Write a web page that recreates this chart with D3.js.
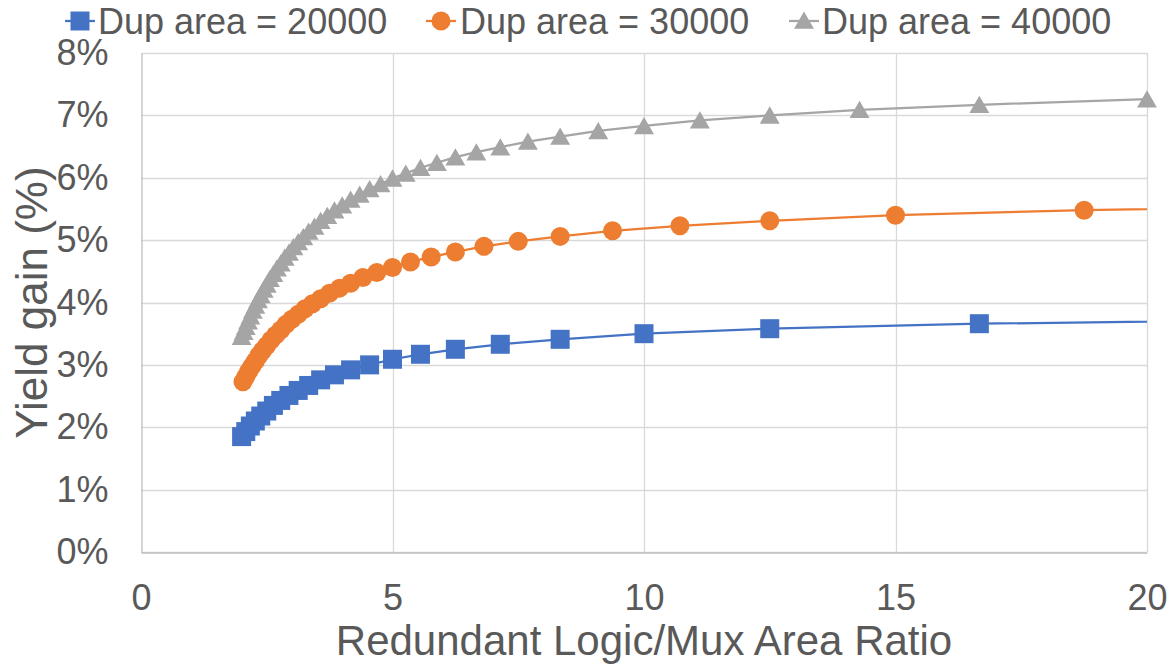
<!DOCTYPE html>
<html>
<head>
<meta charset="utf-8">
<script src="https://cdn.jsdelivr.net/npm/d3@7"></script>
<style>
  html, body { margin: 0; padding: 0; background: #fff; }
  svg text { font-family: "Liberation Sans", Arial, sans-serif; fill: #595959; }
</style>
</head>
<body>
<svg id="chart" width="1174" height="670"></svg>
<script>
// Redundant logic / mux area ratio (x) vs. yield gain in percent (y)
const blueX = [25, 16.667, 12.5, 10, 8.333, 7.143, 6.25, 5.556, 5, 4.545, 4.167, 3.846, 3.571, 3.333, 3.125, 2.941, 2.778, 2.632, 2.5, 2.381, 2.273, 2.174, 2.083, 2.0];
const blueY = [3.74, 3.66, 3.58, 3.50, 3.41, 3.33, 3.25, 3.17, 3.09, 3.00, 2.92, 2.84, 2.76, 2.67, 2.59, 2.51, 2.43, 2.35, 2.26, 2.18, 2.10, 2.02, 1.93, 1.85];

const orangeX = [25, 18.75, 15, 12.5, 10.714, 9.375, 8.333, 7.5, 6.818, 6.25, 5.769, 5.357, 5, 4.688, 4.412, 4.167, 3.947, 3.75, 3.571, 3.409, 3.261, 3.125, 3.0, 2.885, 2.778, 2.679, 2.586, 2.5, 2.419, 2.344, 2.273, 2.206, 2.143, 2.083, 2.027];
const orangeY = [5.56, 5.48, 5.40, 5.31, 5.23, 5.15, 5.06, 4.98, 4.90, 4.81, 4.73, 4.65, 4.56, 4.48, 4.40, 4.31, 4.23, 4.15, 4.06, 3.98, 3.90, 3.81, 3.73, 3.65, 3.56, 3.48, 3.40, 3.31, 3.23, 3.15, 3.06, 2.98, 2.90, 2.81, 2.73];

const grayX = [20, 16.667, 14.286, 12.5, 11.111, 10, 9.091, 8.333, 7.692, 7.143, 6.667, 6.25, 5.882, 5.556, 5.263, 5, 4.762, 4.545, 4.348, 4.167, 4, 3.846, 3.704, 3.571, 3.448, 3.333, 3.226, 3.125, 3.030, 2.941, 2.857, 2.778, 2.703, 2.632, 2.564, 2.5, 2.439, 2.381, 2.326, 2.273, 2.222, 2.174, 2.128, 2.083, 2.041, 2.0];
const grayY = [7.26, 7.17, 7.09, 7.00, 6.92, 6.83, 6.75, 6.66, 6.58, 6.49, 6.41, 6.33, 6.24, 6.16, 6.07, 5.99, 5.90, 5.82, 5.73, 5.65, 5.56, 5.48, 5.39, 5.31, 5.22, 5.14, 5.05, 4.97, 4.89, 4.80, 4.72, 4.63, 4.55, 4.46, 4.38, 4.29, 4.21, 4.12, 4.04, 3.95, 3.87, 3.78, 3.70, 3.61, 3.53, 3.45];

const seriesNames = ["Dup area = 20000", "Dup area = 30000", "Dup area = 40000"];
const xTicks = [0, 5, 10, 15, 20];
const yTicks = [0, 1, 2, 3, 4, 5, 6, 7, 8];
const xTitle = "Redundant Logic/Mux Area Ratio";
const yTitle = "Yield gain (%)";

const series = [
  { name: seriesNames[0], xs: blueX, ys: blueY, color: "#4472C4", symbol: d3.symbolSquare, size: 19 * 19 },
  { name: seriesNames[1], xs: orangeX, ys: orangeY, color: "#ED7D31", symbol: d3.symbolCircle, size: Math.PI * 9.5 * 9.5 },
  { name: seriesNames[2], xs: grayX, ys: grayY, color: "#A5A5A5", symbol: d3.symbolTriangle, size: 19 * 19 * 0.433 * 1.1 }
];

const svg = d3.select("#chart");
const margin = { left: 141, right: 27, top: 53, bottom: 118 };
const W = 1174, H = 670;
const x = d3.scaleLinear().domain([0, 20]).range([margin.left, W - margin.right]);
const y = d3.scaleLinear().domain([0, 8]).range([H - margin.bottom, margin.top]);

// Grid
const grid = svg.append("g");
grid.selectAll("line.h").data(yTicks).join("line")
  .attr("x1", x(0)).attr("x2", x(20))
  .attr("y1", d => Math.round(y(d)) + 0.5).attr("y2", d => Math.round(y(d)) + 0.5)
  .attr("stroke", "#d9d9d9").attr("stroke-width", 1.3);
grid.selectAll("line.v").data(xTicks.slice(1)).join("line")
  .attr("y1", y(0)).attr("y2", y(8))
  .attr("x1", d => Math.round(x(d)) + 0.5).attr("x2", d => Math.round(x(d)) + 0.5)
  .attr("stroke", "#d9d9d9").attr("stroke-width", 1.3);

// Axes
const xAxis = d3.axisBottom(x).tickValues(xTicks).tickSize(0).tickPadding(32);
const yAxis = d3.axisLeft(y).tickValues(yTicks).tickSize(0).tickPadding(33).tickFormat(d => d + "%");
const gx = svg.append("g").attr("transform", `translate(0,${Math.round(y(0)) + 0.5})`).call(xAxis);
const gy = svg.append("g").attr("transform", `translate(${Math.round(x(0)) + 0.5},0)`).call(yAxis);
[gx, gy].forEach(g => {
  g.select(".domain").attr("stroke", "#bfbfbf").attr("stroke-width", 1.3);
  g.selectAll("text").style("font-size", "36px").attr("fill", "#595959");
});
gx.selectAll("text").attr("dy", "0.71em");

// Axis titles
svg.append("text").attr("x", (x(0) + x(20)) / 2).attr("y", 655)
  .attr("text-anchor", "middle").style("font-size", "42px").text(xTitle);
svg.append("text").attr("transform", `translate(47,${(y(0) + y(8)) / 2}) rotate(-90)`)
  .attr("text-anchor", "middle").style("font-size", "44px").text(yTitle);

// Clip for lines
svg.append("clipPath").attr("id", "plotClip").append("rect")
  .attr("x", x(0)).attr("y", 0).attr("width", x(20) - x(0)).attr("height", H);

const line = d3.line().x(d => x(d[0])).y(d => y(d[1]));

series.forEach(s => {
  const pts = s.xs.map((v, i) => [v, s.ys[i]]);
  const g = svg.append("g");
  g.append("path").datum(pts).attr("d", line)
    .attr("fill", "none").attr("stroke", s.color).attr("stroke-width", 2.25)
    .attr("clip-path", "url(#plotClip)");
  g.selectAll("path.m").data(pts.filter(p => p[0] <= 20)).join("path")
    .attr("class", "m")
    .attr("d", d3.symbol().type(s.symbol).size(s.size))
    .attr("transform", p => {
      const dy = s.symbol === d3.symbolTriangle ? 2.5 : 0;
      return `translate(${x(p[0])},${y(p[1]) + dy})`;
    })
    .attr("fill", s.color);
});

// Legend
const legendItems = [
  { s: series[0], cx: 80, tx: 98 },
  { s: series[1], cx: 441, tx: 460 },
  { s: series[2], cx: 804, tx: 822 }
];
const lg = svg.append("g");
legendItems.forEach(it => {
  const cy = 21;
  lg.append("line").attr("x1", it.cx - 15).attr("x2", it.cx + 15)
    .attr("y1", cy).attr("y2", cy).attr("stroke", it.s.color).attr("stroke-width", 2.25);
  const dy = it.s.symbol === d3.symbolTriangle ? 2 : 0;
  lg.append("path").attr("d", d3.symbol().type(it.s.symbol).size(it.s.size))
    .attr("transform", `translate(${it.cx},${cy + dy})`).attr("fill", it.s.color);
  lg.append("text").attr("x", it.tx).attr("y", 34).style("font-size", "36px").text(it.s.name);
});
</script>
</body>
</html>
